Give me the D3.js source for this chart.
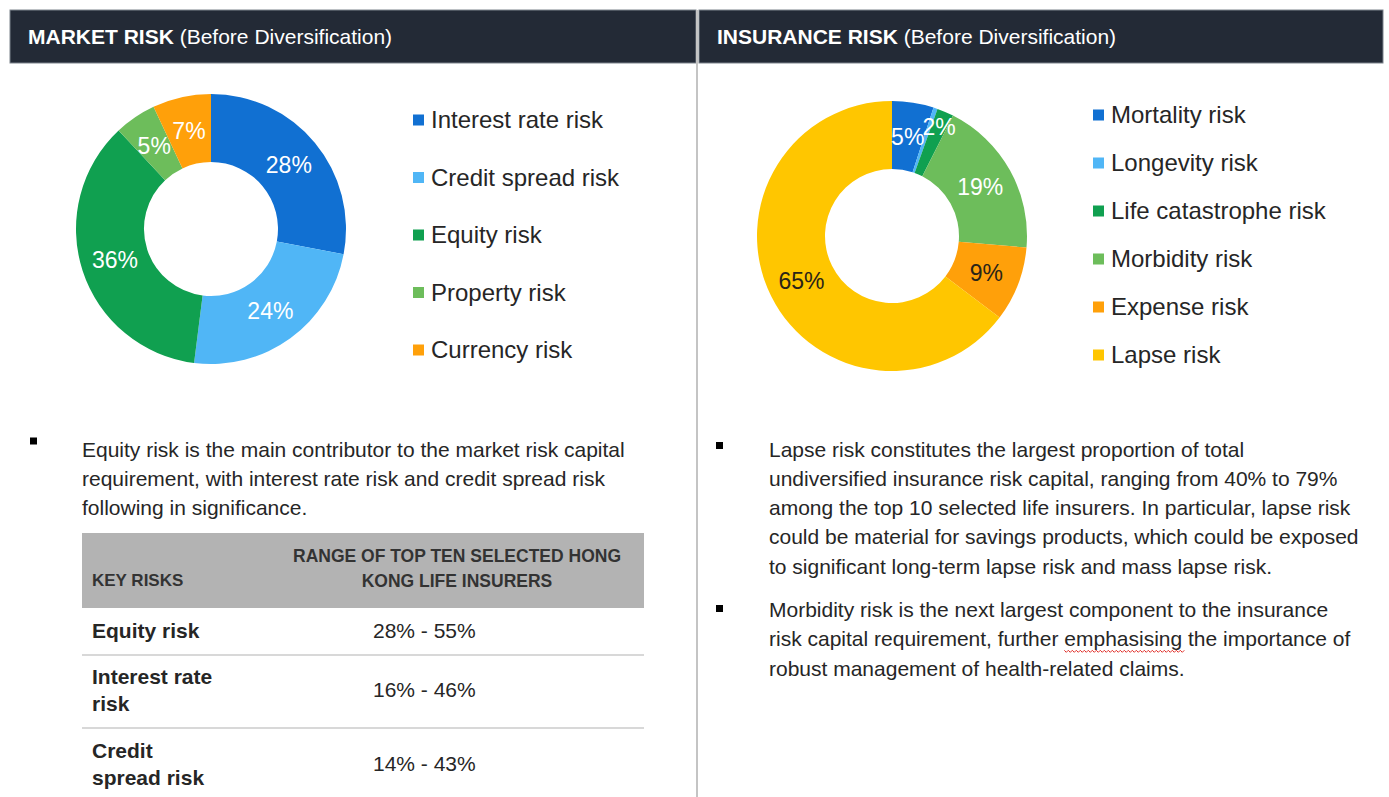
<!DOCTYPE html>
<html><head><meta charset="utf-8">
<script src="https://cdn.jsdelivr.net/npm/d3@7"></script>
<style>
body{margin:0;background:#fff}
svg{display:block}
text{font-family:"Liberation Sans",Arial,Helvetica,sans-serif}
</style>
</head><body>
<svg id="c" width="1389" height="797"></svg>
<script>
// ---------- DATA ----------
const marketCategories = ["Interest rate risk","Credit spread risk","Equity risk","Property risk","Currency risk"];
const marketValues = [28,24,36,5,7];
const marketColors = ["#1170d2","#50b6f6","#10a050","#6dbd5b","#ffa00a"];

const insuranceCategories = ["Mortality risk","Longevity risk","Life catastrophe risk","Morbidity risk","Expense risk","Lapse risk"];
const insuranceValues = [5,0.5,2,19,9,65];
const insuranceColors = ["#1170d2","#50b6f6","#10a050","#6dbd5b","#ffa00a","#ffc600"];

const headerTitles = [["MARKET RISK"," (Before Diversification)"],["INSURANCE RISK"," (Before Diversification)"]];

const marketBullet = [
  "Equity risk is the main contributor to the market risk capital",
  "requirement, with interest rate risk and credit spread risk",
  "following in significance."
];
const insuranceBullets = [
  ["Lapse risk constitutes the largest proportion of total",
   "undiversified insurance risk capital, ranging from 40% to 79%",
   "among the top 10 selected life insurers. In particular, lapse risk",
   "could be material for savings products, which could be exposed",
   "to significant long-term lapse risk and mass lapse risk."],
  ["Morbidity risk is the next largest component to the insurance",
   "risk capital requirement, further emphasising the importance of",
   "robust management of health-related claims."]
];
const squiggleWord = "emphasising";

const tableHeaderKey = "KEY RISKS";
const tableHeaderRange = ["RANGE OF TOP TEN SELECTED HONG","KONG LIFE INSURERS"];
const tableRisks = [["Equity risk"],["Interest rate","risk"],["Credit","spread risk"]];
const tableRanges = ["28% - 55%","16% - 46%","14% - 43%"];

// ---------- DRAW ----------
const svg = d3.select("#c");
const TXT = "#262626";

// headers
const headers = [{x:10,w:686},{x:699,w:684}];
headers.forEach((h,i)=>{
  svg.append("rect").attr("x",h.x).attr("y",10).attr("width",h.w).attr("height",53)
    .attr("fill","#232a36").attr("stroke","#7d838c").attr("stroke-width",1);
  const t = svg.append("text").attr("x",h.x+18).attr("y",43.5).attr("fill","#fff").attr("font-size",21);
  t.append("tspan").attr("font-weight","bold").text(headerTitles[i][0]);
  t.append("tspan").text(headerTitles[i][1]);
});
// divider
svg.append("line").attr("x1",697).attr("x2",697).attr("y1",10).attr("y2",797)
  .attr("stroke","#c4c4c4").attr("stroke-width",2);

function donut(cx, cy, values, colors, darkIdx){
  const g = svg.append("g").attr("transform",`translate(${cx},${cy})`);
  const pie = d3.pie().sort(null).value(d=>d);
  const arcs = pie(values);
  const arc = d3.arc().innerRadius(67).outerRadius(135);
  const labArc = d3.arc().innerRadius(101).outerRadius(101);
  const labArcOut = d3.arc().innerRadius(119).outerRadius(119);
  g.selectAll("path").data(arcs).join("path")
    .attr("d",arc).attr("fill",(d,i)=>colors[i]);
  g.selectAll("text").data(arcs.filter(d=>d.data>=1)).join("text")
    .attr("transform",d=>`translate(${(d.data<3?labArcOut:labArc).centroid(d)})`)
    .attr("text-anchor","middle").attr("dy","0.36em")
    .attr("font-size",23)
    .attr("fill",d=>darkIdx.includes(d.index)?"#2a2418":"#fff")
    .text(d=>d.data+"%");
}
donut(211,229,marketValues,marketColors,[]);
donut(892,236,insuranceValues,insuranceColors,[4,5]);

function legend(x, y0, step, cats, colors){
  const g = svg.append("g");
  const items = g.selectAll("g").data(cats).join("g")
    .attr("transform",(d,i)=>`translate(${x},${y0+i*step})`);
  items.append("rect").attr("x",0).attr("y",-5.5).attr("width",11).attr("height",11)
    .attr("fill",(d,i)=>colors[i]);
  items.append("text").attr("x",18).attr("dy","0.35em").attr("font-size",24)
    .attr("fill",TXT).text(d=>d);
}
legend(413,120,57.5,marketCategories,marketColors);
legend(1093,115,48,insuranceCategories,insuranceColors);

// bullets
function bullet(bx, by, tx, lines, y0){
  svg.append("rect").attr("x",bx).attr("y",by).attr("width",7).attr("height",7).attr("fill","#000");
  return lines.map((l,i)=>svg.append("text").attr("x",tx).attr("y",y0+i*29.3)
    .attr("font-size",21).attr("fill",TXT).text(l));
}
bullet(30,437.5,82,marketBullet,456.5);
bullet(716,442,769,insuranceBullets[0],456.5);
const b2 = bullet(716,605,769,insuranceBullets[1],617);

// squiggle under "emphasising"
b2.forEach(t=>{
  const s = t.text(); const k = s.indexOf(squiggleWord);
  if(k>=0){
    const node = t.node();
    const x0 = +t.attr("x") + node.getSubStringLength(0,k);
    const w = node.getSubStringLength(k,squiggleWord.length);
    const y = +t.attr("y")+4;
    let p = `M${x0},${y}`;
    for(let xx=x0; xx<x0+w; xx+=4){ p += ` l2,2 l2,-2`; }
    svg.append("path").attr("d",p).attr("fill","none").attr("stroke","#e0302a").attr("stroke-width",1);
  }
});

// table
svg.append("rect").attr("x",82).attr("y",533).attr("width",562).attr("height",75).attr("fill","#b3b3b3");
svg.append("text").attr("x",92).attr("y",586).attr("font-size",17).attr("font-weight","bold")
  .attr("fill","#333").text(tableHeaderKey);
tableHeaderRange.forEach((l,i)=>svg.append("text").attr("x",457).attr("y",562+i*25)
  .attr("text-anchor","middle").attr("font-size",17.5).attr("font-weight","bold").attr("fill","#333").text(l));

const rowY = d3.scaleOrdinal().domain([0,1,2]).range([631,690,764]);
tableRisks.forEach((lines,i)=>{
  const cy = rowY(i);
  lines.forEach((l,j)=>{
    svg.append("text").attr("x",92).attr("y",cy + (j-(lines.length-1)/2)*27).attr("dy","0.35em")
      .attr("font-size",21).attr("font-weight","bold").attr("fill",TXT).text(l);
  });
  svg.append("text").attr("x",373).attr("y",cy).attr("dy","0.35em")
    .attr("font-size",21).attr("fill",TXT).text(tableRanges[i]);
});
[655,728].forEach(y=>svg.append("line").attr("x1",82).attr("x2",644).attr("y1",y).attr("y2",y)
  .attr("stroke","#d8d8d8").attr("stroke-width",2));
</script>
</body></html>
